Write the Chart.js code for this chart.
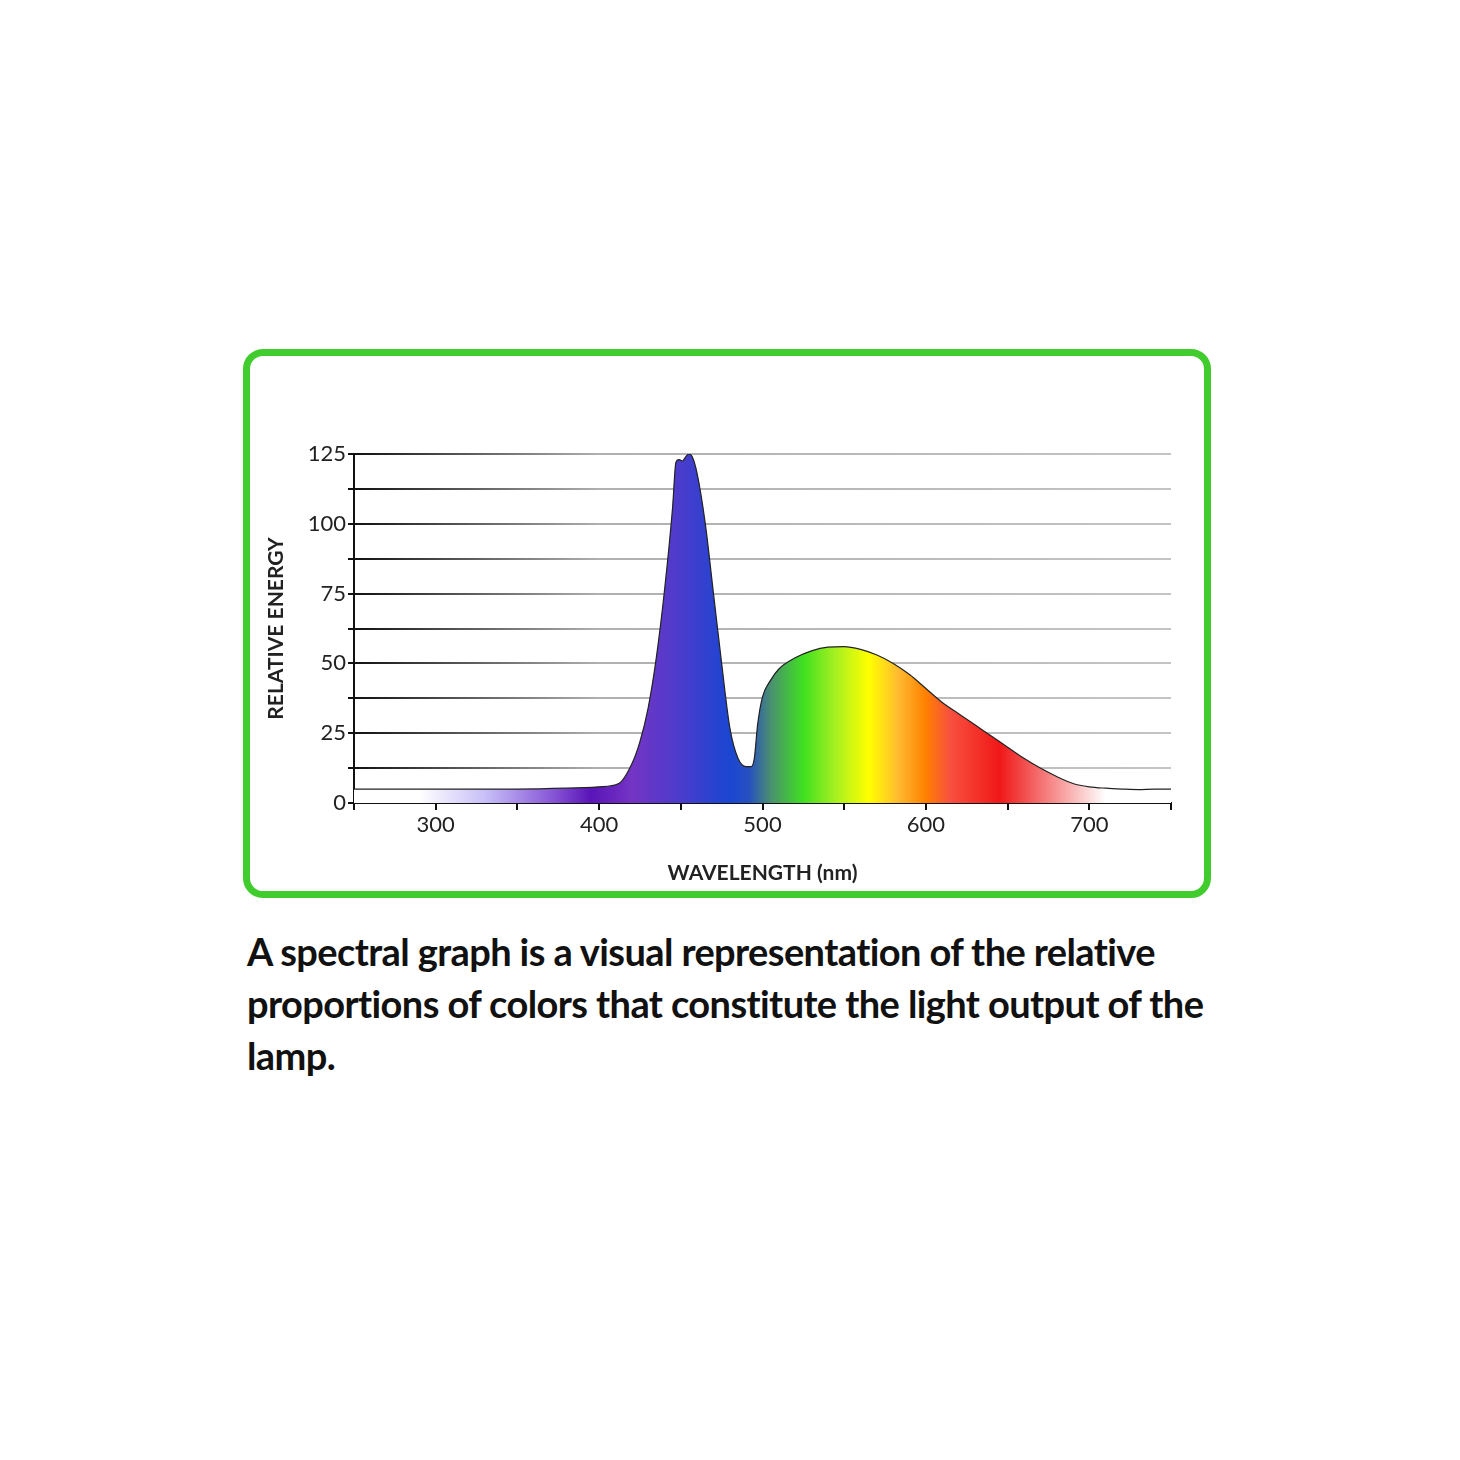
<!DOCTYPE html>
<html><head><meta charset="utf-8">
<script src="https://cdn.jsdelivr.net/npm/chart.js@4"></script>
<style>
body{margin:0;width:1460px;height:1460px;background:#fff;position:relative;font-family:Lato,"Open Sans",sans-serif;}
#box{position:absolute;left:243px;top:349px;width:954px;height:535px;border:7px solid #3fcc2c;border-radius:20px;}
#wrap{position:absolute;left:260px;top:430px;width:930px;height:460px;}
#cap{position:absolute;left:247px;top:925px;width:960px;font-size:38px;font-weight:bold;line-height:52px;color:#111;letter-spacing:-0.6px;}
</style></head><body>
<div id="box"></div>
<div id="wrap"><canvas id="c" width="930" height="460" style="width:930px;height:460px"></canvas></div>
<div id="cap">A spectral graph is a visual representation of the relative proportions of colors that constitute the light output of the lamp.</div>
<script>
const wavelengths=[250,300,350,380,400,412,420,425,430,435,440,445,447,449,451,453,455,457,460,465,470,475,480,485,490,493,495,497,500,505,510,520,530,540,550,560,570,580,590,600,610,620,630,640,650,660,670,680,690,700,710,720,730,740,750];
const energy=[5,5,5,5.3,5.8,7,14,22,34,52,76,106,122,123,122.5,124,125,124,118,100,75,50,27,16,13,13,16,28,38,44,48,52,54.5,55.8,56,55,53,50,46,41,36,32,28,24,20,16,12.5,9.5,7,5.8,5.3,5,4.8,5,5];
const yTicks=[0,25,50,75,100,125];
const xTicks=[300,400,500,600,700];
const spectrum=[[250,'#ffffff'],[290,'#ffffff'],[330,'#c8c0f8'],[370,'#8a5ad8'],[395,'#5a14b8'],[420,'#7434c4'],[450,'#4a3ccc'],[480,'#1a46d2'],[492,'#2850c0'],[505,'#4a9070'],[525,'#40e020'],[545,'#a8f020'],[565,'#ffff00'],[583,'#ffbb30'],[600,'#ff8000'],[615,'#f85040'],[645,'#f01818'],[670,'#f57070'],[710,'#ffffff'],[750,'#ffffff']];
function specGrad(chart){
  const a=chart.chartArea; if(!a) return '#44f';
  const xs=chart.scales.x, g=chart.ctx.createLinearGradient(a.left,0,a.right,0);
  spectrum.forEach(([w,c])=>g.addColorStop(Math.min(1,Math.max(0,(xs.getPixelForValue(w)-a.left)/(a.right-a.left))),c));
  return g;
}
function gridGrad(chart){
  const a=chart.chartArea; if(!a) return '#888';
  const g=chart.ctx.createLinearGradient(a.left,0,a.right,0);
  g.addColorStop(0,'#111');g.addColorStop(0.3,'#b0b0b0');g.addColorStop(1,'#c4c4c4');return g;
}
new Chart(document.getElementById('c'),{
  type:'line',
  data:{datasets:[{data:wavelengths.map((w,i)=>({x:w,y:energy[i]})),fill:'origin',borderColor:'#222',borderWidth:1.2,pointRadius:0,tension:0.4,cubicInterpolationMode:'monotone',backgroundColor:c=>specGrad(c.chart)}]},
  options:{responsive:false,animation:false,devicePixelRatio:1,
    layout:{padding:{top:24,right:19,left:0,bottom:0}},
    plugins:{legend:{display:false},tooltip:{enabled:false}},
    scales:{
      x:{type:'linear',min:250,max:750,afterFit:s=>{s.height=87;},
        border:{color:'#111',width:2},
        grid:{drawOnChartArea:false,tickLength:7,color:'#111',lineWidth:2,offset:false},
        ticks:{stepSize:50,autoSkip:false,maxRotation:0,color:'#222',font:{family:'Lato',size:22},padding:2,callback:v=>xTicks.includes(v)?String(v):''},
        title:{display:true,text:'WAVELENGTH (nm)',color:'#222',font:{family:'Lato',size:21,weight:'bold'},padding:{top:12}}},
      y:{min:0,max:125,afterFit:s=>{s.width=94;},
        border:{color:'#111',width:2},
        grid:{color:c=>gridGrad(c.chart),lineWidth:2,tickLength:6,tickColor:'#111'},
        ticks:{stepSize:12.5,autoSkip:false,color:'#222',font:{family:'Lato',size:22},padding:2,callback:v=>yTicks.includes(v)?String(v):''},
        title:{display:true,text:'RELATIVE ENERGY',color:'#222',font:{family:'Lato',size:21,weight:'bold'},padding:{bottom:6}}}
    }
  }
});
</script></body></html>
